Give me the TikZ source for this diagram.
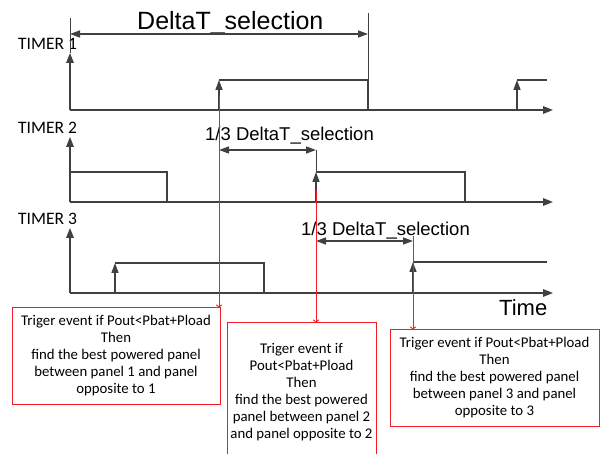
\documentclass[tikz,border=0pt]{standalone}
\usepackage{fontspec}
\setmainfont{Liberation Sans}
\newfontfamily\calib{Carlito}
\usetikzlibrary{arrows.meta}
\definecolor{lg}{RGB}{64,64,64}
\definecolor{rd}{RGB}{238,30,36}
\begin{document}
\begin{tikzpicture}[x=1pt,y=-1pt,
 sig/.style={draw=lg,line width=1.5pt},
 ax/.style={draw=lg,line width=1.6pt,-{Triangle[length=10pt,width=7.5pt]}},
 rise/.style={draw=lg,line width=1.5pt,-{Triangle[length=10pt,width=7pt]}},
 thinline/.style={draw=lg,line width=0.9pt},
 spanarrow/.style={draw=lg,line width=1.3pt,{Triangle[length=10pt,width=7pt]}-{Triangle[length=10pt,width=7pt]}},
 trig/.style={draw=rd,line width=0.9pt,-{To[length=3pt,width=6pt]}},
 evbox/.style={draw=rd,line width=1pt,align=center,inner sep=0pt,font=\calib\fontsize{14.8}{17}\selectfont},
 timerlbl/.style={anchor=base west,inner sep=0pt,font=\calib\fontsize{17.5}{20}\selectfont},
 arial/.style={anchor=base west,inner sep=0pt},
]
\useasboundingbox (0,0) rectangle (600,454);
\clip (0,0) rectangle (600,454);

% labels
\node[timerlbl] (t1) at (18,50) {TIMER 1};
\node[timerlbl] (t2) at (18,133.5) {TIMER 2};
\node[timerlbl] (t3) at (18,224.5) {TIMER 3};
\node[arial,font=\fontsize{25}{30}\selectfont] (dt) at (137,30) {DeltaT\_selection};
\node[arial,font=\fontsize{18.5}{22}\selectfont] (dt2) at (205,141) {1/3 DeltaT\_selection};
\node[arial,font=\fontsize{18.5}{22}\selectfont] (dt3) at (301,236) {1/3 DeltaT\_selection};
\node[arial,font=\fontsize{22}{26}\selectfont] (time) at (499,316) {Time};

% TIMER 1
\draw[ax] (70,110) -- (553,110);
\draw[ax] (70,110) -- (70,53);
\draw[thinline] (70,18) -- (70,53);
\draw[rise] (219,110) -- (219,80);
\draw[sig] (219,80) -- (368,80) -- (368,110);
\draw[thinline] (368,13) -- (368,80);
\draw[spanarrow] (70,34) -- (368,34);
\draw[rise] (517,110) -- (517,80);
\draw[sig] (517,80) -- (547,80);

% TIMER 2
\draw[ax] (70,202) -- (553,202);
\draw[ax] (70,202) -- (70,137);
\draw[sig] (70,172) -- (167,172) -- (167,202);
\draw[rise] (316,202) -- (316,172);
\draw[sig] (316,172) -- (465,172) -- (465,202);
\draw[thinline] (316,150) -- (316,172);
\draw[spanarrow] (219,150) -- (316,150);

% TIMER 3
\draw[ax] (70,293) -- (553,293);
\draw[ax] (70,293) -- (70,228);
\draw[rise] (115,293) -- (115,263);
\draw[sig] (115,263) -- (264,263) -- (264,293);
\draw[rise] (413,293) -- (413,262);
\draw[sig] (413,262) -- (547,262);
\draw[spanarrow] (316,241) -- (413,241);

% boxes
\node[evbox,minimum width=208pt,minimum height=96pt] (b1) at (116,356)
 {Triger event if Pout<Pbat+Pload\\Then\\find the best powered panel\\between panel 1 and panel\\opposite to 1};
\node[evbox,minimum width=149pt,minimum height=138pt] (b2) at (301.5,392)
 {Triger event if\\Pout<Pbat+Pload\\Then\\find the best powered\\panel between panel 2\\and panel opposite to 2};
\node[evbox,minimum width=209pt,minimum height=96pt] (b3) at (494.5,378)
 {Triger event if Pout<Pbat+Pload\\Then\\find the best powered panel\\between panel 3 and panel\\opposite to 3};

% trigger lines
\coordinate (r1) at (219,96);
\coordinate (r2) at (316,190);
\coordinate (r3) at (413,236);
\draw[trig] (r1) -- (r1 |- b1.north);
\draw[trig] (r2) -- (r2 |- b2.north);
\draw[trig] (r3) -- (r3 |- b3.north);
\end{tikzpicture}
\end{document}
